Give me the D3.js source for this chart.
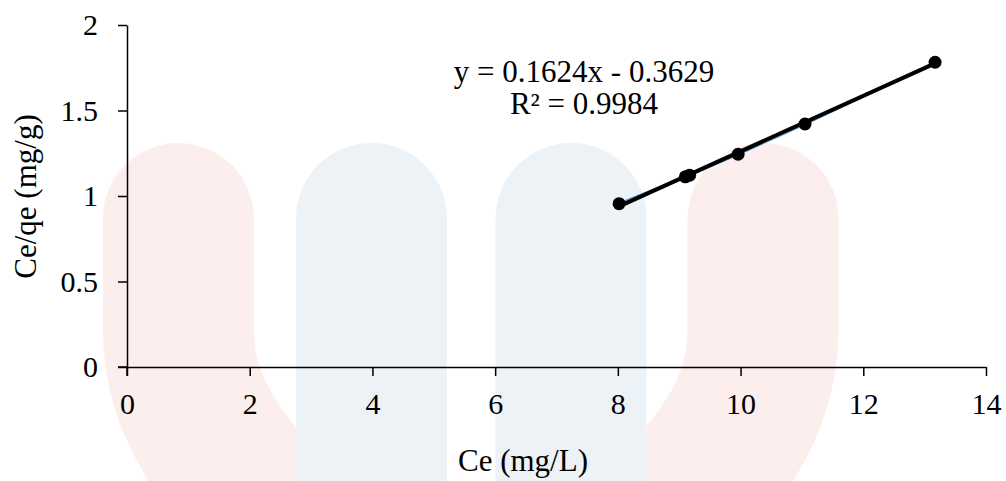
<!DOCTYPE html>
<html>
<head>
<meta charset="utf-8">
<script src="https://cdn.jsdelivr.net/npm/d3@7"></script>
<style>
  html, body { margin: 0; padding: 0; background: #ffffff; }
  svg { display: block; }
  text { font-family: "Liberation Serif", "Times New Roman", serif; fill: #000; }
</style>
</head>
<body>
<svg id="chart" width="1006" height="481"></svg>
<script>
// Linearised isotherm data: Ce (mg/L) against Ce/qe (mg/g)
const ce = [8.02, 9.10, 9.17, 9.96, 11.05, 13.17];
const ceQe = [0.955, 1.112, 1.122, 1.244, 1.421, 1.782];

// Fitted trendline reported on the chart
const slope = 0.1624;
const intercept = -0.3629;
const rSquared = 0.9984;

const xTicks = [0, 2, 4, 6, 8, 10, 12, 14];
const yTicks = [0, 0.5, 1, 1.5, 2];

const xTitle = "Ce (mg/L)";
const yTitle = "Ce/qe (mg/g)";

const svg = d3.select("#chart");

// Faint background emblem
const emblem = svg.append("g").attr("fill", "none").attr("stroke-linecap", "round").attr("stroke-width", 151);
emblem.append("path").attr("stroke", "#fdeeee")
  .attr("d", "M178.5,218.5 L178.5,330 C178.5,420 235,480 330,570");
emblem.append("path").attr("stroke", "#fdeeee")
  .attr("d", "M763,218.5 L763,330 C763,420 707,480 612,570");
emblem.append("path").attr("stroke", "#edf2f7")
  .attr("d", "M371.5,218.5 L371.5,620");
emblem.append("path").attr("stroke", "#edf2f7")
  .attr("d", "M571,218.5 L571,620");

const x = d3.scaleLinear().domain([0, 14]).range([127, 986]);
const y = d3.scaleLinear().domain([0, 2]).range([367, 25]);

// Axes
const xAxis = svg.append("g")
  .attr("transform", `translate(0,${y(0)})`)
  .call(d3.axisBottom(x).tickValues(xTicks).tickSize(9).tickSizeOuter(0).tickFormat(d3.format("d")));
xAxis.selectAll("text").attr("y", 47).attr("dy", 0).style("font-size", "30px");

const yAxis = svg.append("g")
  .attr("transform", `translate(${x(0)},0)`)
  .call(d3.axisLeft(y).tickValues(yTicks).tickSize(9).tickSizeOuter(0).tickFormat(d => String(d)));
yAxis.selectAll("text").attr("x", -29).style("font-size", "30px");

svg.selectAll(".domain, .tick line").attr("stroke", "#000").attr("stroke-width", 1.5);
svg.selectAll(".tick text").attr("font-family", null);

// Extend the x axis line under the left-hand zero tick, as the y tick there crosses it
svg.append("line")
  .attr("x1", x(0) - 9).attr("x2", x(0))
  .attr("y1", y(0)).attr("y2", y(0))
  .attr("stroke", "#000").attr("stroke-width", 1.5);
// Extend the y axis line down through the x zero tick
svg.append("line")
  .attr("x1", x(0)).attr("x2", x(0))
  .attr("y1", y(0)).attr("y2", y(0) + 9)
  .attr("stroke", "#000").attr("stroke-width", 1.5);

// Axis titles
svg.append("text")
  .attr("x", 523).attr("y", 471)
  .attr("text-anchor", "middle")
  .style("font-size", "31px")
  .text(xTitle);

svg.append("text")
  .attr("transform", "translate(36,196.5) rotate(-90)")
  .attr("text-anchor", "middle")
  .style("font-size", "31px")
  .text(yTitle);

const pts = ce.map((c, i) => ({ x: c, y: ceQe[i] }));

// Data series line
svg.append("path")
  .datum(pts)
  .attr("fill", "none")
  .attr("stroke", "#5b9bd5")
  .attr("stroke-width", 2.5)
  .attr("d", d3.line().x(d => x(d.x)).y(d => y(d.y)));

// Linear trendline over the data range
const xMin = d3.min(ce), xMax = d3.max(ce);
svg.append("line")
  .attr("x1", x(xMin)).attr("y1", y(slope * xMin + intercept))
  .attr("x2", x(xMax)).attr("y2", y(slope * xMax + intercept))
  .attr("stroke", "#000")
  .attr("stroke-width", 4);

// Markers
svg.append("g").selectAll("circle")
  .data(pts)
  .join("circle")
  .attr("cx", d => x(d.x))
  .attr("cy", d => y(d.y))
  .attr("r", 6.5)
  .attr("fill", "#000");

// Trendline equation label
const eq = svg.append("text")
  .attr("text-anchor", "middle")
  .style("font-size", "31px");
eq.append("tspan").attr("x", 584).attr("y", 82)
  .text(`y = ${slope.toFixed(4)}x - ${Math.abs(intercept).toFixed(4)}`);
eq.append("tspan").attr("x", 584).attr("y", 114)
  .text(`R² = ${rSquared.toFixed(4)}`);
</script>
</body>
</html>
